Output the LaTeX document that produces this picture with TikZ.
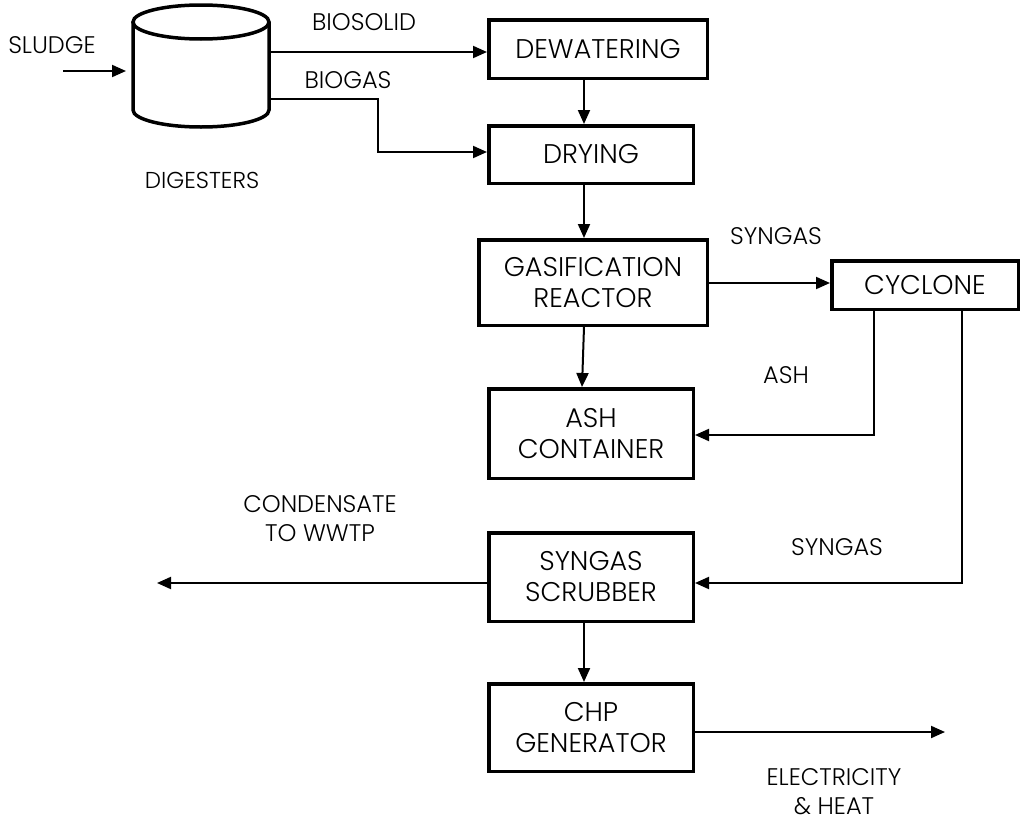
\documentclass[tikz,border=0pt]{standalone}
\usepackage{fontspec}
\setmainfont{Poppins}[UprightFont={* Light}]
\usetikzlibrary{arrows.meta}
\begin{document}
\begin{tikzpicture}[x=1pt,y=-1pt,
  box/.style={draw, line width=3.5pt, inner sep=0pt, align=center, font=\fontsize{27}{31}\selectfont},
  lab/.style={inner sep=0pt, align=center, font=\fontsize{24}{29}\selectfont},
  conn/.style={line width=2pt},
  arr/.style={conn, -{Triangle[length=14pt,width=12pt]}},
  cyl/.style={line width=3.5pt}]
\useasboundingbox (0,0) rectangle (1029,822);
% digester cylinder
\node[minimum width=136pt, minimum height=122pt, inner sep=0pt] (dig) at (201,66) {};
\draw[cyl] (201,22) ellipse [x radius=68pt, y radius=17pt];
\draw[cyl] (133,22) -- (133,110) arc[start angle=180, end angle=360, x radius=68pt, y radius=17pt] -- (269,22);
% boxes
\node[box, minimum width=218.5pt, minimum height=58.5pt] (dew) at (598,49) {DEWATERING};
\node[box, minimum width=204.5pt, minimum height=57.5pt] (dry) at (591,154.5) {DRYING};
\node[box, minimum width=228.5pt, minimum height=85.5pt] (gas) at (593,282.5) {GASIFICATION\\REACTOR};
\node[box, minimum width=204.5pt, minimum height=89.5pt] (ash) at (591,433.5) {ASH\\CONTAINER};
\node[box, minimum width=186.5pt, minimum height=48.5pt] (cyc) at (925,285) {CYCLONE};
\node[box, minimum width=204.5pt, minimum height=88.5pt] (scr) at (591,577) {SYNGAS\\SCRUBBER};
\node[box, minimum width=204.5pt, minimum height=87.5pt] (chp) at (591,727.5) {CHP\\GENERATOR};
% labels
\node[lab] (lsludge) at (52,45) {SLUDGE};
\node[lab, font=\fontsize{23}{28}\selectfont] (ldig) at (202,180) {DIGESTERS};
\node[lab] (lbios) at (364,22) {BIOSOLID};
\node[lab] (lbiog) at (348,80) {BIOGAS};
\node[lab] (lsyn1) at (776,236) {SYNGAS};
\node[lab] (lash) at (786,375) {ASH};
\node[lab] (lsyn2) at (837,547) {SYNGAS};
\node[lab] (lcond) at (320,519) {CONDENSATE\\TO WWTP};
\node[lab] (lelec) at (834,792) {ELECTRICITY\\\& HEAT};
% free ends
\coordinate (slin) at (63,71);
\coordinate (slend) at (126,71);
\coordinate (condend) at (157,583);
\coordinate (elec) at (945,732);
% connectors
\draw[arr] (slin) -- (slend);
\draw[arr] (dig.east |- 0,52) -- (dew.west |- 0,52);
\draw[arr] (dig.east |- 0,99) -- (378,99) |- (dry.west |- 0,152);
\draw[arr] (dew.south -| 584,0) -- (dry.north -| 584,0);
\draw[arr] (dry.south -| 584,0) -- (gas.north -| 584,0);
\draw[arr] (gas.south -| 584,0) -- (ash.north -| 582,0);
\draw[arr] (gas.east |- 0,283) -- (cyc.west |- 0,283);
\draw[arr] (cyc.south -| 874,0) |- (ash.east |- 0,435);
\draw[arr] (cyc.south -| 962,0) |- (scr.east |- 0,583);
\draw[arr] (scr.west |- 0,583) -- (condend);
\draw[arr] (scr.south -| 584,0) -- (chp.north -| 584,0);
\draw[arr] (chp.east |- 0,732) -- (elec);
\end{tikzpicture}
\end{document}
